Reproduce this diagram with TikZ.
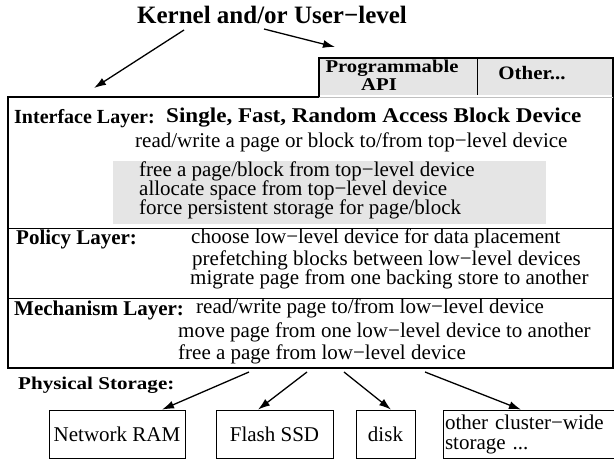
\documentclass[tikz,border=0pt]{standalone}
\usepackage{fontspec}
\setmainfont{Liberation Serif}
\usetikzlibrary{positioning,arrows.meta}

\begin{document}
\begin{tikzpicture}[x=1pt,y=-1pt,
    txt/.style={anchor=base west,inner sep=0pt,font=\fontsize{21}{21}\selectfont},
    head/.style={anchor=base west,inner sep=0pt,font=\fontsize{21}{21}\selectfont\bfseries},
    tab/.style={inner sep=0pt,anchor=base,font=\fontsize{18}{18}\selectfont\bfseries},
    store/.style={draw=black,line width=0.8pt,inner sep=0pt,font=\fontsize{21}{20}\selectfont},
    arr/.style={-{Latex[length=12pt,width=8pt]},line width=1.3pt}]
    \useasboundingbox (0,0) rectangle (614,460);

    % shaded areas
    \fill[black!10] (319,58) rectangle (613,95);
    \fill[black!10] (113,161) rectangle (546,224);

    % outline of the layers
    \draw[line width=1.8pt] (8,368) -- (8,97) -- (319,97) -- (319,58) -- (613,58) -- (613,368) -- cycle;
    \draw[black!25,line width=0.8pt] (319,97) -- (613,97);
    \draw[line width=0.8pt] (477,58) -- (477,95);
    \draw[line width=0.8pt] (8,228) -- (613,228);
    \draw[line width=0.8pt] (8,298) -- (613,298);

    % top
    \node[inner sep=0pt,anchor=base,font=\fontsize{25}{25}\selectfont\bfseries] (title) at (272,24) {Kernel and/or User−level};
    \node[tab] (prog) at (392,73) {\scalebox{1.15}[1]{Programmable}};
    \node[tab] (api) at (379,91) {\scalebox{1.15}[1]{API}};
    \node[tab,font=\fontsize{19}{19}\selectfont\bfseries] (other) at (532,80) {\scalebox{1.1}[1]{Other...}};

    \coordinate (k1) at (184,30);
    \coordinate (k2) at (264,29);
    \coordinate (k1e) at (94,88);
    \coordinate (k2e) at (335,47);
    \draw[arr] (k1) -- (k1e);
    \draw[arr] (k2) -- (k2e);

    % interface layer
    \node[head,font=\fontsize{20}{20}\selectfont\bfseries] (iface) at (14,124) {Interface Layer:};
    \node[head,font=\fontsize{21}{21}\selectfont\bfseries] (ifsub) at (166,123) {\scalebox{1.1}[1]{Single, Fast, Random Access Block Device}};
    \node[txt] (if1) at (135,148) {read/write a page or block to/from top−level device};
    \node[txt] (if2) at (139,176) {free a page/block from top−level device};
    \node[txt] (if3) at (139,195) {allocate space from top−level device};
    \node[txt] (if4) at (139,214) {force persistent storage for page/block};

    % policy layer
    \node[head] (policy) at (16,244) {Policy Layer:};
    \node[txt] (po1) at (191,243) {choose low−level device for data placement};
    \node[txt] (po2) at (192,265) {prefetching blocks between low−level devices};
    \node[txt] (po3) at (190,284) {migrate page from one backing store to another};

    % mechanism layer
    \node[head] (mech) at (14,315) {Mechanism Layer:};
    \node[txt] (me1) at (196,313) {read/write page to/from low−level device};
    \node[txt] (me2) at (178,337) {move page from one low−level device to another};
    \node[txt] (me3) at (178,359) {free a page from low−level device};

    % physical storage
    \node[head,font=\fontsize{18}{18}\selectfont\bfseries] (phys) at (18,389) {\scalebox{1.17}[1]{Physical Storage:}};
    \node[store,minimum width=136pt,minimum height=48pt] (ram) at (117,434) {Network RAM};
    \node[store,minimum width=117pt,minimum height=48pt] (ssd) at (274.5,434) {Flash SSD};
    \node[store,minimum width=59pt,minimum height=48pt] (disk) at (385.5,434) {disk};
    \node[store,minimum width=171pt,minimum height=48pt,align=left,text width=167pt] (cluster) at (528.5,434) {other cluster−wide\\storage ...};

    \coordinate (m1) at (249,372);
    \coordinate (m2) at (307,372);
    \coordinate (m3) at (344,372);
    \coordinate (m4) at (425,372);
    \draw[arr] (m1) -- (ram.north -| 162,0);
    \draw[arr] (m2) -- (ssd.north -| 258,0);
    \draw[arr] (m3) -- (disk.north -| 391,0);
    \draw[arr] (m4) -- (cluster.north -| 521,0);
\end{tikzpicture}
\end{document}
